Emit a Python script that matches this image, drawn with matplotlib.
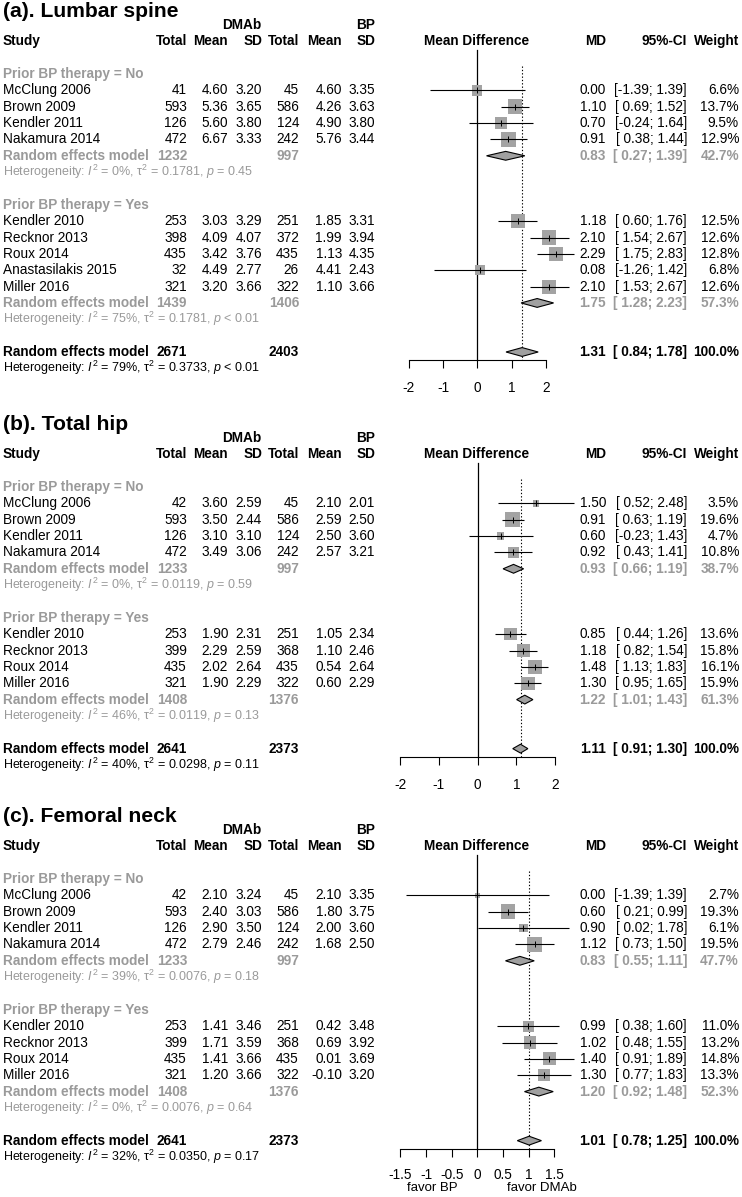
import matplotlib
matplotlib.use('Agg')
import matplotlib.pyplot as plt
import numpy as np

plt.rcParams['font.family'] = ['Liberation Sans', 'DejaVu Sans']
plt.rcParams['mathtext.fontset'] = 'custom'
plt.rcParams['mathtext.rm'] = 'Liberation Sans'
plt.rcParams['mathtext.it'] = 'Liberation Sans:italic'
plt.rcParams['mathtext.bf'] = 'Liberation Sans:bold'

# ---------------- data: (a) Lumbar spine ----------------
A_STUDY = ['McClung 2006', 'Brown 2009', 'Kendler 2011', 'Nakamura 2014',
           'Kendler 2010', 'Recknor 2013', 'Roux 2014', 'Anastasilakis 2015', 'Miller 2016']
A_GROUP = ['No', 'No', 'No', 'No', 'Yes', 'Yes', 'Yes', 'Yes', 'Yes']
A_DN = [41, 593, 126, 472, 253, 398, 435, 32, 321]
A_DMEAN = [4.60, 5.36, 5.60, 6.67, 3.03, 4.09, 3.42, 4.49, 3.20]
A_DSD = [3.20, 3.65, 3.80, 3.33, 3.29, 4.07, 3.76, 2.77, 3.66]
A_BN = [45, 586, 124, 242, 251, 372, 435, 26, 322]
A_BMEAN = [4.60, 4.26, 4.90, 5.76, 1.85, 1.99, 1.13, 4.41, 1.10]
A_BSD = [3.35, 3.63, 3.80, 3.44, 3.31, 3.94, 4.35, 2.43, 3.66]
A_MD = [0.00, 1.10, 0.70, 0.91, 1.18, 2.10, 2.29, 0.08, 2.10]
A_LO = [-1.39, 0.69, -0.24, 0.38, 0.60, 1.54, 1.75, -1.26, 1.53]
A_HI = [1.39, 1.52, 1.64, 1.44, 1.76, 2.67, 2.83, 1.42, 2.67]
A_W = [6.6, 13.7, 9.5, 12.9, 12.5, 12.6, 12.8, 6.8, 12.6]
A_SUB_DN = [1232, 1439]
A_SUB_BN = [997, 1406]
A_SUB_MD = [0.83, 1.75]
A_SUB_LO = [0.27, 1.28]
A_SUB_HI = [1.39, 2.23]
A_SUB_W = [42.7, 57.3]
A_SUB_I2 = [0, 75]
A_SUB_TAU2 = [0.1781, 0.1781]
A_SUB_P = ['= 0.45', '< 0.01']
A_TOT = [2671, 2403, 1.31, 0.84, 1.78]
A_TOT_HET = [79, 0.3733, '< 0.01']
A_TICKS = [-2, -1, 0, 1, 2]

# ---------------- data: (b) Total hip ----------------
B_STUDY = ['McClung 2006', 'Brown 2009', 'Kendler 2011', 'Nakamura 2014',
           'Kendler 2010', 'Recknor 2013', 'Roux 2014', 'Miller 2016']
B_GROUP = ['No', 'No', 'No', 'No', 'Yes', 'Yes', 'Yes', 'Yes']
B_DN = [42, 593, 126, 472, 253, 399, 435, 321]
B_DMEAN = [3.60, 3.50, 3.10, 3.49, 1.90, 2.29, 2.02, 1.90]
B_DSD = [2.59, 2.44, 3.10, 3.06, 2.31, 2.59, 2.64, 2.29]
B_BN = [45, 586, 124, 242, 251, 368, 435, 322]
B_BMEAN = [2.10, 2.59, 2.50, 2.57, 1.05, 1.10, 0.54, 0.60]
B_BSD = [2.01, 2.50, 3.60, 3.21, 2.34, 2.46, 2.64, 2.29]
B_MD = [1.50, 0.91, 0.60, 0.92, 0.85, 1.18, 1.48, 1.30]
B_LO = [0.52, 0.63, -0.23, 0.43, 0.44, 0.82, 1.13, 0.95]
B_HI = [2.48, 1.19, 1.43, 1.41, 1.26, 1.54, 1.83, 1.65]
B_W = [3.5, 19.6, 4.7, 10.8, 13.6, 15.8, 16.1, 15.9]
B_SUB_DN = [1233, 1408]
B_SUB_BN = [997, 1376]
B_SUB_MD = [0.93, 1.22]
B_SUB_LO = [0.66, 1.01]
B_SUB_HI = [1.19, 1.43]
B_SUB_W = [38.7, 61.3]
B_SUB_I2 = [0, 46]
B_SUB_TAU2 = [0.0119, 0.0119]
B_SUB_P = ['= 0.59', '= 0.13']
B_TOT = [2641, 2373, 1.11, 0.91, 1.30]
B_TOT_HET = [40, 0.0298, '= 0.11']
B_TICKS = [-2, -1, 0, 1, 2]

# ---------------- data: (c) Femoral neck ----------------
C_STUDY = ['McClung 2006', 'Brown 2009', 'Kendler 2011', 'Nakamura 2014',
           'Kendler 2010', 'Recknor 2013', 'Roux 2014', 'Miller 2016']
C_GROUP = ['No', 'No', 'No', 'No', 'Yes', 'Yes', 'Yes', 'Yes']
C_DN = [42, 593, 126, 472, 253, 399, 435, 321]
C_DMEAN = [2.10, 2.40, 2.90, 2.79, 1.41, 1.71, 1.41, 1.20]
C_DSD = [3.24, 3.03, 3.50, 2.46, 3.46, 3.59, 3.66, 3.66]
C_BN = [45, 586, 124, 242, 251, 368, 435, 322]
C_BMEAN = [2.10, 1.80, 2.00, 1.68, 0.42, 0.69, 0.01, -0.10]
C_BSD = [3.35, 3.75, 3.60, 2.50, 3.48, 3.92, 3.69, 3.20]
C_MD = [0.00, 0.60, 0.90, 1.12, 0.99, 1.02, 1.40, 1.30]
C_LO = [-1.39, 0.21, 0.02, 0.73, 0.38, 0.48, 0.91, 0.77]
C_HI = [1.39, 0.99, 1.78, 1.50, 1.60, 1.55, 1.89, 1.83]
C_W = [2.7, 19.3, 6.1, 19.5, 11.0, 13.2, 14.8, 13.3]
C_SUB_DN = [1233, 1408]
C_SUB_BN = [997, 1376]
C_SUB_MD = [0.83, 1.20]
C_SUB_LO = [0.55, 0.92]
C_SUB_HI = [1.11, 1.48]
C_SUB_W = [47.7, 52.3]
C_SUB_I2 = [39, 0]
C_SUB_TAU2 = [0.0076, 0.0076]
C_SUB_P = ['= 0.18', '= 0.64']
C_TOT = [2641, 2373, 1.01, 0.78, 1.25]
C_TOT_HET = [32, 0.0350, '= 0.17']
C_TICKS = [-1.5, -1, -0.5, 0, 0.5, 1, 1.5]

GROUP_LABELS = ['No', 'Yes']
FAVOR = ['favor BP', 'favor DMAb']

PANELS = [
    dict(title='(a). Lumbar spine', row0=25, study=A_STUDY, group=A_GROUP, dn=A_DN, dmean=A_DMEAN,
         dsd=A_DSD, bn=A_BN, bmean=A_BMEAN, bsd=A_BSD, md=A_MD, lo=A_LO, hi=A_HI, w=A_W,
         sdn=A_SUB_DN, sbn=A_SUB_BN, smd=A_SUB_MD, slo=A_SUB_LO, shi=A_SUB_HI, sw=A_SUB_W,
         si2=A_SUB_I2, stau=A_SUB_TAU2, sp=A_SUB_P, tot=A_TOT, thet=A_TOT_HET, ticks=A_TICKS,
         zero_px=477.3, unit_px=34.2, pad=9.5, favor=False),
    dict(title='(b). Total hip', row0=438, study=B_STUDY, group=B_GROUP, dn=B_DN, dmean=B_DMEAN,
         dsd=B_DSD, bn=B_BN, bmean=B_BMEAN, bsd=B_BSD, md=B_MD, lo=B_LO, hi=B_HI, w=B_W,
         sdn=B_SUB_DN, sbn=B_SUB_BN, smd=B_SUB_MD, slo=B_SUB_LO, shi=B_SUB_HI, sw=B_SUB_W,
         si2=B_SUB_I2, stau=B_SUB_TAU2, sp=B_SUB_P, tot=B_TOT, thet=B_TOT_HET, ticks=B_TICKS,
         zero_px=477.3, unit_px=38.9, pad=10, favor=False),
    dict(title='(c). Femoral neck', row0=830, study=C_STUDY, group=C_GROUP, dn=C_DN, dmean=C_DMEAN,
         dsd=C_DSD, bn=C_BN, bmean=C_BMEAN, bsd=C_BSD, md=C_MD, lo=C_LO, hi=C_HI, w=C_W,
         sdn=C_SUB_DN, sbn=C_SUB_BN, smd=C_SUB_MD, slo=C_SUB_LO, shi=C_SUB_HI, sw=C_SUB_W,
         si2=C_SUB_I2, stau=C_SUB_TAU2, sp=C_SUB_P, tot=C_TOT, thet=C_TOT_HET, ticks=C_TICKS,
         zero_px=477.3, unit_px=51.3, pad=8.5, favor=True),
]

W, H = 742, 1197
ROW_H = 16.35
FS = 9.8
FS_HET = 9.0
GRAY = '#9a9a9a'
SQ = '#a3a3a3'
DIA = '#a0a0a0'
FL, FR = 400, 555  # forest area in px

# column right edges (px)
X_STUDY = 3
X_DN, X_DMEAN, X_DSD = 187, 228, 262
X_BN, X_BMEAN, X_BSD = 299, 342, 375
X_MD, X_CI, X_W = 606, 687, 739
X_FOREST_HDR = 477

fig = plt.figure(figsize=(W / 100, H / 100), dpi=100)


def ci_txt(lo, hi):
    return f"[{lo:5.2f}; {hi:.2f}]"


def het_txt(i2, tau2, p):
    return (f"Heterogeneity: $I^2$ = {i2}%, $\\mathrm{{\\tau}}^2$ = {tau2:.4f}, $p$ {p}")


for P in PANELS:
    row0 = P['row0']
    n_no = sum(1 for g in P['group'] if g == 'No')
    n_yes = len(P['group']) - n_no
    rows = []
    r = 3
    label_rows, sub_rows = [], []
    for gi, gname in enumerate(GROUP_LABELS):
        label_rows.append(r)
        n = n_no if gi == 0 else n_yes
        rows.extend(range(r + 1, r + 1 + n))
        sub_rows.append(r + 1 + n)
        r = r + 1 + n + 3
    tot_row = sub_rows[-1] + 3
    axis_row = tot_row + 0.5
    top_row, bot_row = -1.6, tot_row + 3.2
    top_px = row0 + top_row * ROW_H
    bot_px = row0 + bot_row * ROW_H
    rect_b = 1 - bot_px / H
    rect_h = (bot_px - top_px) / H

    tax = fig.add_axes([0, rect_b, 1, rect_h])
    tax.set_xlim(0, W)
    tax.set_ylim(bot_row, top_row)
    tax.axis('off')

    fax = fig.add_axes([FL / W, rect_b, (FR - FL) / W, rect_h])
    fax.set_ylim(bot_row, top_row)
    fax.set_xlim((FL - P['zero_px']) / P['unit_px'], (FR - P['zero_px']) / P['unit_px'])
    fax.patch.set_visible(False)

    def T(x, y, s, ha='right', bold=False, color='black', fs=FS):
        tax.text(x, y, s, ha=ha, va='center', fontsize=fs,
                 fontweight='bold' if bold else 'normal', color=color)

    # title & headers
    T(X_STUDY, -0.85, P['title'], ha='left', bold=True, fs=15.2)
    T(X_DSD - 1, 0, 'DMAb', bold=True)
    T(X_BSD, 0, 'BP', bold=True)
    T(X_STUDY, 1, 'Study', ha='left', bold=True)
    for x, s in [(X_DN, 'Total'), (X_DMEAN, 'Mean'), (X_DSD, 'SD'),
                 (X_BN, 'Total'), (X_BMEAN, 'Mean'), (X_BSD, 'SD'),
                 (X_MD, 'MD'), (X_CI, '95%-CI'), (X_W, 'Weight')]:
        T(x, 1, s, bold=True)
    T(X_FOREST_HDR, 1, 'Mean Difference', ha='center', bold=True)

    # study rows
    for i, yr in enumerate(rows):
        T(X_STUDY, yr, P['study'][i], ha='left')
        T(X_DN, yr, str(P['dn'][i]))
        T(X_DMEAN, yr, f"{P['dmean'][i]:.2f}")
        T(X_DSD, yr, f"{P['dsd'][i]:.2f}")
        T(X_BN, yr, str(P['bn'][i]))
        T(X_BMEAN, yr, f"{P['bmean'][i]:.2f}")
        T(X_BSD, yr, f"{P['bsd'][i]:.2f}")
        T(X_MD, yr, f"{P['md'][i]:.2f}")
        T(X_CI, yr, ci_txt(P['lo'][i], P['hi'][i]))
        T(X_W, yr, f"{P['w'][i]:.1f}%")

    # subgroup rows
    for gi, gname in enumerate(GROUP_LABELS):
        lr, sr = label_rows[gi], sub_rows[gi]
        T(X_STUDY, lr, f"Prior BP therapy = {gname}", ha='left', bold=True, color=GRAY)
        T(X_STUDY, sr, 'Random effects model', ha='left', bold=True, color=GRAY)
        T(X_DN, sr, str(P['sdn'][gi]), bold=True, color=GRAY)
        T(X_BN, sr, str(P['sbn'][gi]), bold=True, color=GRAY)
        T(X_MD, sr, f"{P['smd'][gi]:.2f}", bold=True, color=GRAY)
        T(X_CI, sr, ci_txt(P['slo'][gi], P['shi'][gi]), bold=True, color=GRAY)
        T(X_W, sr, f"{P['sw'][gi]:.1f}%", bold=True, color=GRAY)
        T(X_STUDY, sr + 1, het_txt(P['si2'][gi], P['stau'][gi], P['sp'][gi]), ha='left',
          color=GRAY, fs=FS_HET)

    tdn, tbn, tmd, tlo, thi = P['tot']
    T(X_STUDY, tot_row, 'Random effects model', ha='left', bold=True)
    T(X_DN, tot_row, str(tdn), bold=True)
    T(X_BN, tot_row, str(tbn), bold=True)
    T(X_MD, tot_row, f"{tmd:.2f}", bold=True)
    T(X_CI, tot_row, ci_txt(tlo, thi), bold=True)
    T(X_W, tot_row, "100.0%", bold=True)
    T(X_STUDY, tot_row + 1, het_txt(*P['thet']), ha='left', fs=FS_HET)

    # ----- forest -----
    fax.plot([0, 0], [1.5, axis_row], color='black', lw=0.9, zorder=1, clip_on=False)
    fax.plot([tmd, tmd], [2.5, axis_row], color='black', lw=0.8, ls=(0, (1.2, 1.8)),
             zorder=1, clip_on=False)
    wmax = max(P['w'])
    sizes = [(10.6 * np.sqrt(w / wmax)) ** 2 for w in P['w']]
    fax.scatter(P['md'], rows, s=sizes, marker='s', color=SQ, linewidths=0, zorder=2,
                clip_on=False)
    fax.hlines(rows, P['lo'], P['hi'], color='black', lw=0.8, zorder=3, clip_on=False)
    fax.scatter(P['md'], rows, s=14, marker='|', color='black', linewidths=0.7, zorder=4,
                clip_on=False)
    hh = 0.27
    for gi in range(2):
        sr = sub_rows[gi]
        fax.fill([P['slo'][gi], P['smd'][gi], P['shi'][gi], P['smd'][gi]],
                 [sr, sr - hh, sr, sr + hh], facecolor=DIA, edgecolor='black', lw=0.8,
                 zorder=3, clip_on=False)
    fax.fill([tlo, tmd, thi, tmd], [tot_row, tot_row - hh, tot_row, tot_row + hh],
             facecolor=DIA, edgecolor='black', lw=0.8, zorder=3, clip_on=False)

    for s in ['top', 'left', 'right']:
        fax.spines[s].set_visible(False)
    fax.spines['bottom'].set_position(('data', axis_row))
    fax.spines['bottom'].set_bounds(P['ticks'][0], P['ticks'][-1])
    fax.spines['bottom'].set_linewidth(0.8)
    fax.set_yticks([])
    fax.set_xticks(P['ticks'])
    fax.set_xticklabels([f"{t:g}" for t in P['ticks']])
    fax.tick_params(axis='x', direction='out', length=5.5, width=0.8, pad=P['pad'],
                    labelsize=FS)
    if P['favor']:
        fy = tot_row + 2.9
        fax.text(-0.39, fy, FAVOR[0], ha='right', va='center', fontsize=9.5)
        fax.text(0.58, fy, FAVOR[1], ha='left', va='center', fontsize=9.5)

fig.savefig('out.png', dpi=100)
